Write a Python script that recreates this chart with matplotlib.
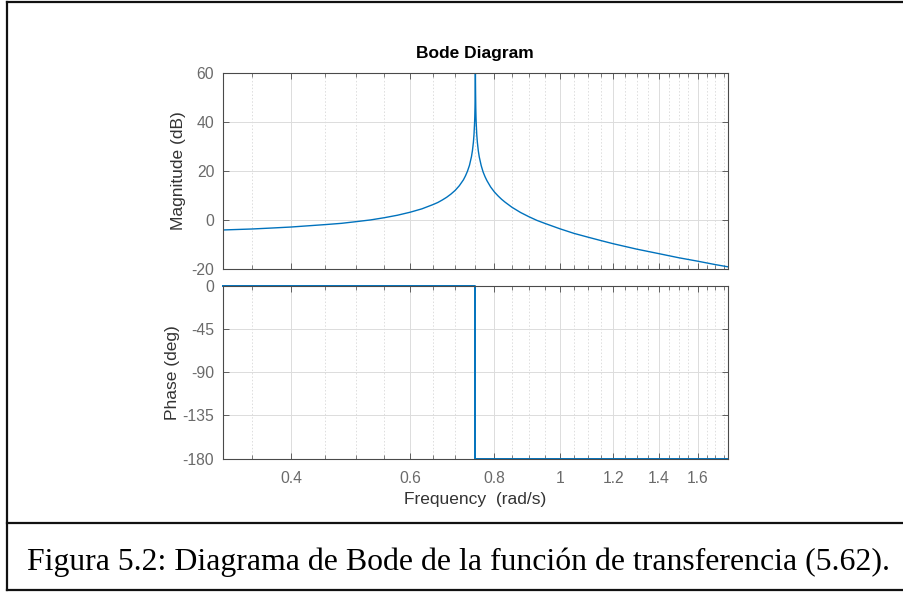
import numpy as np
import matplotlib
matplotlib.use("Agg")
import matplotlib.pyplot as plt
from matplotlib.lines import Line2D
from matplotlib.ticker import FixedLocator, NullFormatter

# magnitude curve (rad/s, dB)
w_mag = [0.317, 0.35, 0.375, 0.4, 0.45, 0.475, 0.5, 0.525, 0.55, 0.575, 0.6,
         0.625, 0.65, 0.66, 0.67, 0.68, 0.69, 0.7, 0.71, 0.72, 0.725, 0.73,
         0.735, 0.74, 0.7425, 0.745, 0.7465, 0.748, 0.7485, 0.749, 0.7495,
         0.75, 0.7505, 0.751, 0.7515, 0.752, 0.7535, 0.755, 0.7575, 0.76,
         0.765, 0.77, 0.775, 0.78, 0.79, 0.8, 0.81, 0.82, 0.83, 0.85, 0.875,
         0.9, 0.925, 0.95, 1.0, 1.05, 1.1, 1.15, 1.2, 1.3, 1.4, 1.5, 1.6,
         1.7, 1.774]
mag_db = [-4.0, -3.6, -3.2, -2.8, -1.8, -1.3, -0.6, 0.1, 1.0, 2.0, 3.2,
          4.6, 6.4, 7.2, 8.2, 9.3, 10.6, 12.1, 14.0, 16.4, 18.0, 19.9,
          22.3, 25.8, 28.3, 31.8, 34.9, 39.8, 42.3, 45.8, 51.8,
          60.0, 51.8, 45.8, 42.3, 39.8, 34.9, 31.8, 28.2, 25.7,
          22.2, 19.6, 17.7, 16.1, 13.5, 11.5, 9.9, 8.5, 7.3, 5.2, 3.1,
          1.4, -0.1, -1.3, -3.5, -5.4, -6.9, -8.3, -9.6, -11.8, -13.6, -15.3,
          -16.7, -18.1, -19.0]

# phase: flat at 0 deg, drops to -180 deg at the resonance
w_phase = [0.317, 0.75, 0.75, 1.774]
phase_deg = [0, 0, -180, -180]

x_ticks = [0.4, 0.6, 0.8, 1, 1.2, 1.4, 1.6]
x_tick_labels = ["0.4", "0.6", "0.8", "1", "1.2", "1.4", "1.6"]
mag_ticks = [-20, 0, 20, 40, 60]
phase_ticks = [-180, -135, -90, -45, 0]

caption = "Figura 5.2: Diagrama de Bode de la función de transferencia (5.62)."

W, H = 904, 593
plt.rcParams["font.family"] = ["Liberation Sans", "DejaVu Sans"]
plt.rcParams["axes.unicode_minus"] = False

fig = plt.figure(figsize=(W / 100, H / 100), dpi=100)


def fx(px):
    return px / W


def fy(py):
    return 1 - py / H


left, right = 222.7, 728.0
ax_mag = fig.add_axes([fx(left), fy(269.3), fx(right - left), (269.3 - 72.7) / H])
ax_ph = fig.add_axes([fx(left), fy(458.7), fx(right - left), (458.7 - 285.7) / H])

blue = "#0072BD"
ax_mag.plot(w_mag, mag_db, color=blue, lw=1.0)
ax_ph.plot(w_phase, phase_deg, color=blue, lw=1.4, clip_on=False)

minor = [round(v, 2) for v in np.arange(0.35, 1.751, 0.05)]
minor = [v for v in minor if v not in x_ticks]

for ax in (ax_mag, ax_ph):
    ax.set_xscale("log")
    ax.set_xlim(0.317, 1.774)
    ax.xaxis.set_major_locator(FixedLocator(x_ticks))
    ax.xaxis.set_minor_locator(FixedLocator(minor))
    ax.xaxis.set_minor_formatter(NullFormatter())
    ax.grid(True, which="major", color="#dcdcdc", lw=0.7)
    ax.grid(True, which="minor", axis="x", color="#dddddd", lw=0.7, ls=(0, (1.5, 2)))
    ax.set_axisbelow(True)
    ax.tick_params(which="both", direction="in", top=True, right=True,
                   labelsize=11.3, labelcolor="#6a6a6a", color="#4a4a4a")
    ax.tick_params(which="major", length=4.5, width=0.6, pad=6)
    ax.tick_params(which="minor", length=3, width=0.5)
    ax.tick_params(axis="x", which="major", pad=8.5)
    for s in ax.spines.values():
        s.set_color("#4a4a4a")
        s.set_linewidth(0.8)

ax_mag.set_ylim(-20, 60)
ax_mag.set_yticks(mag_ticks)
ax_mag.xaxis.set_major_formatter(NullFormatter())
ax_mag.set_ylabel("Magnitude (dB)", fontsize=12.5, color="#333333")
ax_mag.yaxis.set_label_coords(-0.072, 0.5)
ax_mag.set_title("Bode Diagram", fontsize=12.5, fontweight="bold", pad=10.4)

ax_ph.set_ylim(-180, 0)
ax_ph.set_yticks(phase_ticks)
ax_ph.set_xticks(x_ticks, x_tick_labels)
ax_ph.set_ylabel("Phase (deg)", fontsize=12.5, color="#333333")
ax_ph.yaxis.set_label_coords(-0.085, 0.5)
ax_ph.set_xlabel("Frequency  (rad/s)", fontsize=12.5, color="#333333")
ax_ph.xaxis.set_label_coords(0.5, -0.19)

# frame around the figure and the caption box
frame_kw = dict(color="#111111", lw=1.6, transform=fig.transFigure)
fig.add_artist(Line2D([fx(7), 1.0], [fy(2), fy(2)], **frame_kw))
fig.add_artist(Line2D([fx(7), fx(7)], [fy(2), fy(590)], **frame_kw))
fig.add_artist(Line2D([fx(7), 1.0], [fy(590), fy(590)], **frame_kw))
fig.add_artist(Line2D([fx(7), 1.0], [fy(522.7), fy(522.7)], **frame_kw))

fig.text(fx(458.5), fy(570), caption, ha="center", va="baseline",
         fontsize=22.9, family=["Liberation Serif", "DejaVu Serif"], color="black")

fig.savefig("out.png", dpi=100)
